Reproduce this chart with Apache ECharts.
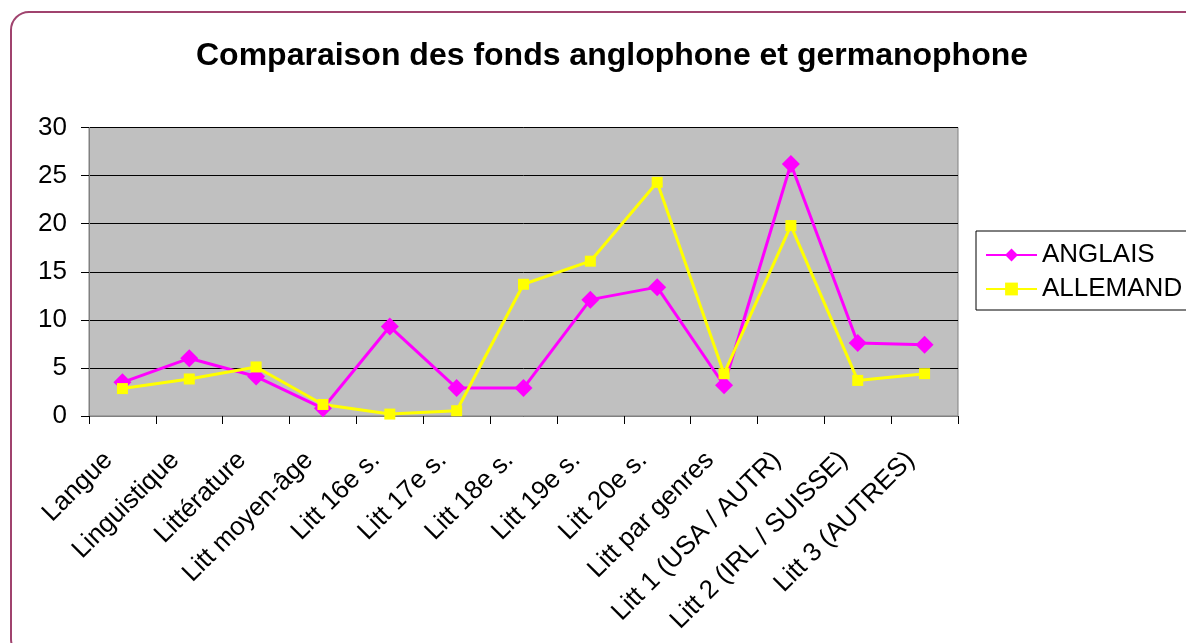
<!DOCTYPE html>
<html>
<head>
<meta charset="utf-8">
<script src="https://cdn.jsdelivr.net/npm/echarts@6/dist/echarts.min.js"></script>
<style>
  html, body { margin: 0; padding: 0; background: #fff; }
  #chart { width: 1186px; height: 643px; }
</style>
</head>
<body>
<div id="chart"></div>
<script>
const categories = ['Langue', 'Linguistique', 'Littérature', 'Litt moyen-âge', 'Litt 16e s.', 'Litt 17e s.',
  'Litt 18e s.', 'Litt 19e s.', 'Litt 20e s.', 'Litt par genres', 'Litt 1 (USA / AUTR)',
  'Litt 2 (IRL / SUISSE)', 'Litt 3 (AUTRES)'];
const anglais = [3.5, 6.0, 4.1, 0.8, 9.3, 2.9, 2.9, 12.1, 13.4, 3.2, 26.2, 7.6, 7.4];
const allemand = [2.85, 3.85, 5.1, 1.2, 0.2, 0.55, 13.7, 16.1, 24.3, 4.4, 19.8, 3.7, 4.4];
const yTicks = { min: 0, max: 30, interval: 5 };

const chart = echarts.init(document.getElementById('chart'));
const font = 'Arial, "Liberation Sans", sans-serif';

chart.setOption({
  animation: false,
  backgroundColor: '#fff',
  title: {
    text: 'Comparaison des fonds anglophone et germanophone',
    left: 607,
    textAlign: 'center',
    top: 35,
    textStyle: { fontFamily: font, fontSize: 32, fontWeight: 'bold', color: '#000' }
  },
  legend: {
    left: 976,
    top: 231,
    orient: 'vertical',
    borderColor: '#000',
    borderWidth: 1,
    padding: [11, 40, 8, 9],
    itemGap: 8,
    itemWidth: 51,
    itemHeight: 16,
    textStyle: { fontFamily: font, fontSize: 26, color: '#000' },
    data: ['ANGLAIS', 'ALLEMAND']
  },
  graphic: [{
    type: 'rect',
    shape: { x: 11, y: 12, width: 1200, height: 645, r: 18 },
    style: { fill: 'none', stroke: '#A0436E', lineWidth: 2 },
    silent: true,
    z: 100
  }],
  grid: {
    left: 89,
    right: 228,
    top: 127.5,
    bottom: 227,
    show: true,
    backgroundColor: '#C0C0C0',
    borderColor: '#808080',
    borderWidth: 1
  },
  xAxis: {
    type: 'category',
    data: categories,
    boundaryGap: true,
    axisLine: { lineStyle: { color: '#808080', width: 1 } },
    axisTick: { show: true, length: 8, alignWithLabel: false, lineStyle: { color: '#000' } },
    axisLabel: {
      rotate: 45,
      interval: 0,
      margin: 26,
      padding: [0, 20, 0, 0],
      fontFamily: font,
      fontSize: 26,
      color: '#000'
    },
    splitLine: { show: false }
  },
  yAxis: {
    type: 'value',
    min: yTicks.min,
    max: yTicks.max,
    interval: yTicks.interval,
    axisLine: { show: true, lineStyle: { color: '#808080' } },
    axisTick: { show: true, inside: false, length: 8, lineStyle: { color: '#000' } },
    axisLabel: { fontFamily: font, fontSize: 26, color: '#000', margin: 22 },
    splitLine: { show: true, lineStyle: { color: '#000', width: 1 } }
  },
  series: [
    {
      name: 'ANGLAIS',
      type: 'line',
      data: anglais,
      symbol: 'diamond',
      symbolSize: 18,
      itemStyle: { color: '#FF00FF' },
      lineStyle: { color: '#FF00FF', width: 3 }
    },
    {
      name: 'ALLEMAND',
      type: 'line',
      data: allemand,
      symbol: 'rect',
      symbolSize: 11,
      itemStyle: { color: '#FFFF00' },
      lineStyle: { color: '#FFFF00', width: 3 }
    }
  ]
});
</script>
</body>
</html>
